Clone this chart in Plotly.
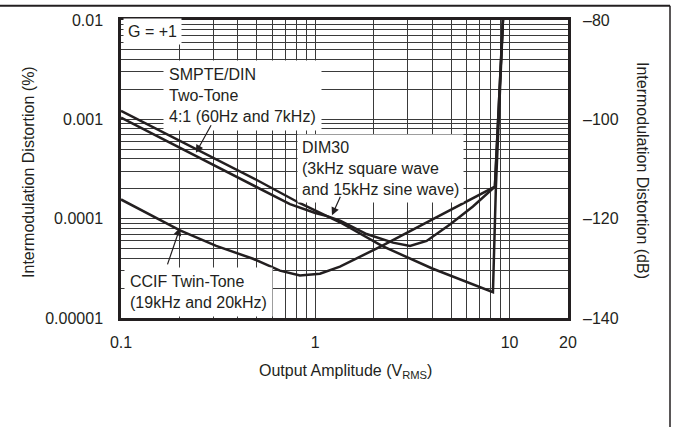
import numpy as np
import plotly.graph_objects as go

# ---- data ----
smpte_v = [0.1, 0.246, 0.5, 0.834, 1.34, 2.204, 4.0, 8.216, 8.51, 9.25]
smpte_imd = [1.22e-3, 4.92e-4, 2.45e-4, 1.43e-4, 9.2e-5, 5.32e-5, 3.15e-5, 1.82e-5, 2.1e-4, 1.0e-2]

dim_v = [0.1, 0.246, 0.741, 1.0, 1.15, 1.35, 1.838, 2.512, 3.072, 3.744, 4.935, 6.48, 8.41, 9.25]
dim_imd = [1.04e-3, 4.22e-4, 1.40e-4, 1.14e-4, 1.06e-4, 9.5e-5, 7.0e-5, 5.74e-5, 5.32e-5, 5.97e-5, 8.74e-5, 1.327e-4, 2.10e-4, 1.0e-2]

ccif_v = [0.1, 0.2012, 0.309, 0.478, 0.658, 0.834, 1.057, 1.34, 2.204, 8.41, 9.25]
ccif_imd = [1.56e-4, 7.62e-5, 5.32e-5, 3.95e-5, 3.0e-5, 2.68e-5, 2.79e-5, 3.29e-5, 5.32e-5, 2.10e-4, 1.0e-2]

x_grid = [k * 10.0 ** e for e in (-1, 0) for k in range(1, 10)] + [10, 20]
x_labels = {0.1: "0.1", 1.0: "1", 10: "10", 20: "20"}
y_grid = [k * 10.0 ** e for e in (-5, -4, -3) for k in range(1, 10)] + [0.01]
y_labels = {1e-5: "0.00001", 1e-4: "0.0001", 1e-3: "0.001", 1e-2: "0.01"}
db_ticks = [-140, -120, -100, -80]
db_labels = ["\u2013140", "\u2013120", "\u2013100", "\u201380"]

FONT = "Liberation Sans, Arial, Helvetica, sans-serif"
INK = "#231f20"

def lab(v, table):
    for k, s in table.items():
        if abs(v - k) / k < 1e-6:
            return s
    return ""

fig = go.Figure()
line = dict(color=INK, width=2.5)
for xs, ys, nm in [(smpte_v, smpte_imd, "SMPTE/DIN"), (dim_v, dim_imd, "DIM30"), (ccif_v, ccif_imd, "CCIF")]:
    fig.add_trace(go.Scatter(x=xs, y=ys, mode="lines", line=line, name=nm, showlegend=False))

# invisible trace on right axis
fig.add_trace(go.Scatter(x=[1], y=[-100], yaxis="y2", mode="markers",
                         marker=dict(opacity=0), showlegend=False, hoverinfo="skip"))

L, R, T, B = 121, 673 - 568, 16, 427 - 318
W, H = 673 - L - R, 427 - T - B

def px(xp):
    return (xp - L) / W

def py(yp):
    return (427 - B - yp) / H

fig.update_layout(
    width=673, height=427,
    margin=dict(l=L, r=R, t=T, b=B, pad=0),
    paper_bgcolor="white", plot_bgcolor="white",
    font=dict(family=FONT, size=16, color=INK),
    xaxis=dict(type="log", range=[-1, np.log10(20)],
               tickmode="array", tickvals=x_grid,
               ticktext=[lab(v, x_labels) for v in x_grid],
               showgrid=True, gridcolor="#3a3a3a", gridwidth=1,
               showline=True, linecolor=INK, linewidth=2.5, mirror=True,
               ticks="", ticklabelstandoff=8, zeroline=False,
               tickfont=dict(size=16)),
    yaxis=dict(type="log", range=[-5, -2],
               tickmode="array", tickvals=y_grid,
               ticktext=[lab(v, y_labels) for v in y_grid],
               showgrid=True, gridcolor="#3a3a3a", gridwidth=1,
               showline=True, linecolor=INK, linewidth=2.5, mirror=True,
               ticks="", ticklabelstandoff=12, zeroline=False,
               tickfont=dict(size=16)),
    yaxis2=dict(overlaying="y", side="right", range=[-140, -80],
                tickmode="array", tickvals=db_ticks, ticktext=db_labels,
                showgrid=False, showline=False, zeroline=False,
                ticks="", ticklabelstandoff=14, tickfont=dict(size=16)),
)

ann = []
# axis titles
ann.append(dict(text="Output Amplitude (V<sub>RMS</sub>)", xref="paper", yref="paper",
                x=px(345), y=py(372), xanchor="center", yanchor="middle",
                showarrow=False, font=dict(size=16)))
ann.append(dict(text="Intermodulation Distortion (%)", xref="paper", yref="paper",
                x=px(29), y=py(170), xanchor="center", yanchor="middle",
                textangle=-90, showarrow=False, font=dict(size=16)))
ann.append(dict(text="Intermodulation Distortion (dB)", xref="paper", yref="paper",
                x=px(642), y=py(168), xanchor="center", yanchor="middle",
                textangle=90, showarrow=False, font=dict(size=16)))

# boxed labels
def box(text, x_left, y_mid, pad):
    return dict(text=text, xref="paper", yref="paper", x=px(x_left), y=py(y_mid),
                xanchor="left", yanchor="middle", align="left", showarrow=False,
                bgcolor="white", borderpad=pad, font=dict(size=16))

ann.append(box("G = +1", 123, 28, 4))
ann.append(box("SMPTE/DIN<br>Two-Tone<br>4:1 (60Hz and 7kHz)", 163, 93, 5))
ann.append(box("DIM30<br>(3kHz square wave<br>and 15kHz sine wave)", 297, 166, 4))
ann.append(box("CCIF Twin-Tone<br>(19kHz and 20kHz)", 124, 292, 5))

# arrows: tip in data coords, tail offset in px
arrows = [((0.243, 4.60e-4), (16, -29)),
          ((1.219, 1.081e-4), (9, -20)),
          ((0.2012, 8.08e-5), (-13, 38))]
for (xv, yv), (ax, ay) in arrows:
    ann.append(dict(text="", x=np.log10(xv), y=np.log10(yv), xref="x", yref="y",
                    ax=ax, ay=ay, showarrow=True, arrowhead=2, arrowsize=1.3,
                    arrowwidth=1.2, arrowcolor=INK, font=dict(size=1)))

fig.update_layout(annotations=ann)

# outer frame (top and right edges)
fig.add_shape(type="line", xref="paper", yref="paper",
              x0=px(0), x1=px(670), y0=py(1.5), y1=py(1.5), line=dict(color=INK, width=2))
fig.add_shape(type="line", xref="paper", yref="paper",
              x0=px(670), x1=px(670), y0=py(1.5), y1=py(430), line=dict(color=INK, width=1.5))

fig.write_html("out.html", config={"displayModeBar": False},
               post_script="document.body.style.margin='0px';document.body.style.overflow='hidden';")
